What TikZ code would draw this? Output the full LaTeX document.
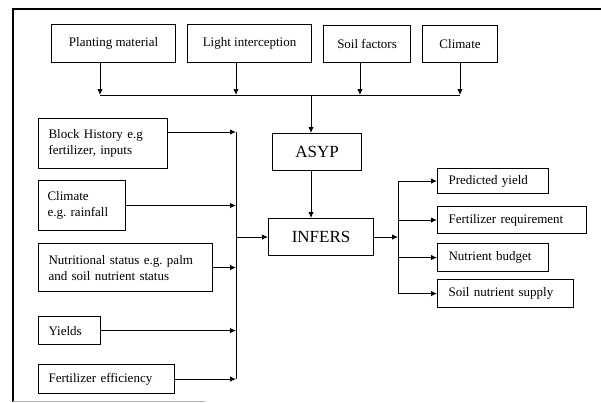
\documentclass[tikz,border=0pt]{standalone}
\usepackage{fontspec}
\setmainfont{Liberation Serif}
\usetikzlibrary{arrows.meta}
\frenchspacing
\begin{document}
\begin{tikzpicture}[x=1pt,y=-1pt,
 box/.style={draw, line width=1.1pt, inner sep=0pt, anchor=north west, font=\fontsize{13}{16}\selectfont},
 lbox/.style={box, align=left, inner xsep=10pt},
 obox/.style={box, align=left, inner xsep=11pt},
 big/.style={box, font=\fontsize{17}{20}\selectfont},
 conn/.style={line width=1pt},
 arr/.style={conn, -{Latex[length=6pt,width=5.5pt]}}]
\useasboundingbox (0,0) rectangle (601,402);
% frame
\draw[line width=1.2pt] (601,9) -- (13,9) -- (13,402);
\draw[gray!60, line width=1pt] (13,401) -- (205,401);
% top inputs
\node[box, minimum width=124, minimum height=38] (pm) at (51,24) {Planting material};
\node[box, minimum width=124, minimum height=38] (li) at (187,24) {Light interception};
\node[box, minimum width=87, minimum height=37] (sf) at (323,25) {Soil factors};
\node[box, minimum width=75, minimum height=37] (cl) at (422,25) {Climate};
\coordinate (b1) at (100,95);
\coordinate (b2) at (236,95);
\coordinate (b3) at (360,95);
\coordinate (b4) at (460,95);
\coordinate (bA) at (311,95);
\draw[arr] (pm.south -| b1) -- (b1);
\draw[arr] (li.south -| b2) -- (b2);
\draw[arr] (sf.south -| b3) -- (b3);
\draw[arr] (cl.south -| b4) -- (b4);
\draw[conn] (b1) -- (b4);
% centre
\node[big, minimum width=89, minimum height=37] (asyp) at (272,133) {ASYP};
\node[big, minimum width=105, minimum height=37] (inf) at (268,218) {INFERS};
\draw[arr] (bA) -- (asyp.north -| bA);
\draw[arr] (asyp.south -| bA) -- (inf.north -| bA);
% left inputs
\node[lbox, text width=109, minimum height=50] (bh) at (38,118) {\mbox{Block History e.g}\\\mbox{fertilizer, inputs}};
\node[lbox, inner xsep=9pt, text width=69, minimum height=50] (cr) at (38,180) {\mbox{Climate}\\\mbox{e.g. rainfall}};
\node[lbox, text width=154, minimum height=48] (ns) at (38,243) {\mbox{Nutritional status e.g. palm}\\\mbox{and soil nutrient status}};
\node[lbox, text width=42, minimum height=28] (yi) at (38,316) {\mbox{Yields}};
\node[lbox, text width=116, minimum height=29] (fe) at (38,364) {\mbox{Fertilizer efficiency}};
\coordinate (l1) at (236,132);
\draw[arr] (bh.east |- l1) -- (l1);
\draw[arr] (cr.east) -- (cr.east -| l1);
\draw[arr] (ns.east) -- (ns.east -| l1);
\draw[arr] (yi.east) -- (yi.east -| l1);
\draw[arr] (fe.east) -- (fe.east -| l1);
\draw[conn] (l1) -- (fe.east -| l1);
\draw[arr] (inf.west -| l1) -- (inf.west);
% outputs
\node[obox, text width=89, minimum height=25] (py) at (437,168) {\mbox{Predicted yield}};
\node[obox, text width=127, minimum height=27] (fr) at (437,206) {\mbox{Fertilizer requirement}};
\node[obox, text width=89, minimum height=28] (nb) at (437,243) {\mbox{Nutrient budget}};
\node[obox, text width=114, minimum height=28] (sn) at (437,279) {\mbox{Soil nutrient supply}};
\coordinate (rx) at (398,236);
\draw[arr] (inf.east) -- (inf.east -| rx);
\draw[conn] (py.west -| rx) -- (sn.west -| rx);
\draw[arr] (py.west -| rx) -- (py.west);
\draw[arr] (fr.west -| rx) -- (fr.west);
\draw[arr] (nb.west -| rx) -- (nb.west);
\draw[arr] (sn.west -| rx) -- (sn.west);
\end{tikzpicture}
\end{document}
